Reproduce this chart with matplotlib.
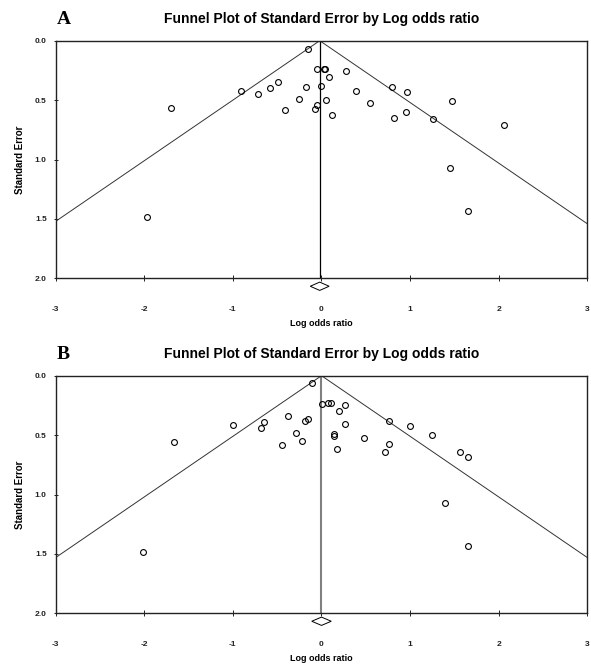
import numpy as np
import matplotlib
matplotlib.use("Agg")
import matplotlib.pyplot as plt

plt.rcParams['font.family'] = ['Liberation Sans', 'DejaVu Sans']

# panel A: log odds ratio / standard error per study
a_lor = [-0.156, -0.051, 0.030, 0.040, 0.280, 0.088, -0.908, -0.716, -0.577,
         -0.491, -0.171, -0.010, -0.254, 0.050, -0.412, -0.051, -0.077, 0.118,
         0.391, 0.800, 0.962, 0.549, 1.477, -1.698, 0.817, 0.957, 1.260, 2.060,
         1.451, 1.655, -1.974]
a_se = [0.067, 0.241, 0.241, 0.241, 0.252, 0.303, 0.421, 0.446, 0.396,
        0.350, 0.387, 0.381, 0.491, 0.499, 0.583, 0.544, 0.577, 0.628,
        0.424, 0.393, 0.435, 0.525, 0.511, 0.567, 0.654, 0.596, 0.657, 0.713,
        1.070, 1.430, 1.483]
a_pooled = -0.02
a_ci = (-0.127, 0.086)

# panel B
b_lor = [-0.111, 0.005, 0.073, 0.111, 0.193, 0.264, -0.374, -0.153, -0.190,
         -0.649, -1.002, -0.678, 0.264, -0.291, 0.140, 0.140, -0.446, -0.224,
         0.171, 0.762, 0.996, 0.485, 1.251, -1.668, 0.766, 0.719, 1.562, 1.651,
         1.396, 1.651, -2.017]
b_se = [0.064, 0.241, 0.232, 0.227, 0.295, 0.247, 0.342, 0.365, 0.379,
        0.390, 0.418, 0.443, 0.407, 0.482, 0.493, 0.510, 0.583, 0.552,
        0.617, 0.385, 0.427, 0.525, 0.497, 0.559, 0.573, 0.646, 0.646, 0.685,
        1.073, 1.433, 1.486]
b_pooled = 0.0
b_ci = (-0.11, 0.11)

xticks = [-3, -2, -1, 0, 1, 2, 3]
yticks = [0.0, 0.5, 1.0, 1.5, 2.0]

W, H = 591, 664
fig = plt.figure(figsize=(W / 100, H / 100), dpi=100)


def funnel(top_px, letter, lor, se, pooled, ci, vcolor, vwidth):
    left, right, height = 55.7, 587.3, 237.6
    ax = fig.add_axes([left / W, 1 - (top_px + height) / H,
                       (right - left) / W, height / H])
    ax.set_xlim(-3, 3)
    ax.set_ylim(2.0, 0.0)

    # pseudo 95% limits
    s = np.array([0, 2.0])
    ax.plot(pooled - 1.96 * s, s, color='#333333', lw=0.7)
    ax.plot(pooled + 1.96 * s, s, color='#333333', lw=0.7)
    ax.plot([pooled, pooled], [0, 2.0], color=vcolor, lw=vwidth)

    ax.plot(lor, se, 'o', ms=4.2, mfc='none', mec='black', mew=0.8)

    # combined effect diamond under the axis
    yd, hd = 2.067, 0.035
    ax.fill([ci[0], pooled, ci[1], pooled], [yd, yd - hd, yd, yd + hd],
            facecolor='white', edgecolor='black', lw=0.7, clip_on=False)

    ax.set_xticks(xticks)
    ax.set_xticklabels([str(t) for t in xticks])
    ax.set_yticks(yticks)
    ax.set_yticklabels([f"{t:.1f}" for t in yticks])
    ax.tick_params(axis='x', direction='inout', length=4, width=0.7,
                   labelsize=6, pad=18, colors='#222222')
    ax.tick_params(axis='y', direction='inout', length=3, width=0.7,
                   labelsize=6, pad=5, colors='#222222')
    for lbl in ax.get_xticklabels() + ax.get_yticklabels():
        lbl.set_fontweight('bold')
    for sp in ax.spines.values():
        sp.set_linewidth(1.0)
        sp.set_color('#222222')

    ax.set_xlabel("Log odds ratio", fontsize=6.5, fontweight='bold', labelpad=4)
    ax.set_ylabel("Standard Error", fontsize=7, fontweight='bold', labelpad=7)
    ax.set_title("Funnel Plot of Standard Error by Log odds ratio",
                 fontsize=10, fontweight='bold', pad=12.5)
    fig.text(57 / W, 1 - (top_px - 21) / H, letter, family='Liberation Serif',
             fontsize=14, fontweight='bold', ha='left', va='center')
    return ax


funnel(40.7, 'A', a_lor, a_se, a_pooled, a_ci, 'black', 0.9)
funnel(375.7, 'B', b_lor, b_se, b_pooled, b_ci, '#808080', 1.5)

fig.savefig("out.png", dpi=100)
